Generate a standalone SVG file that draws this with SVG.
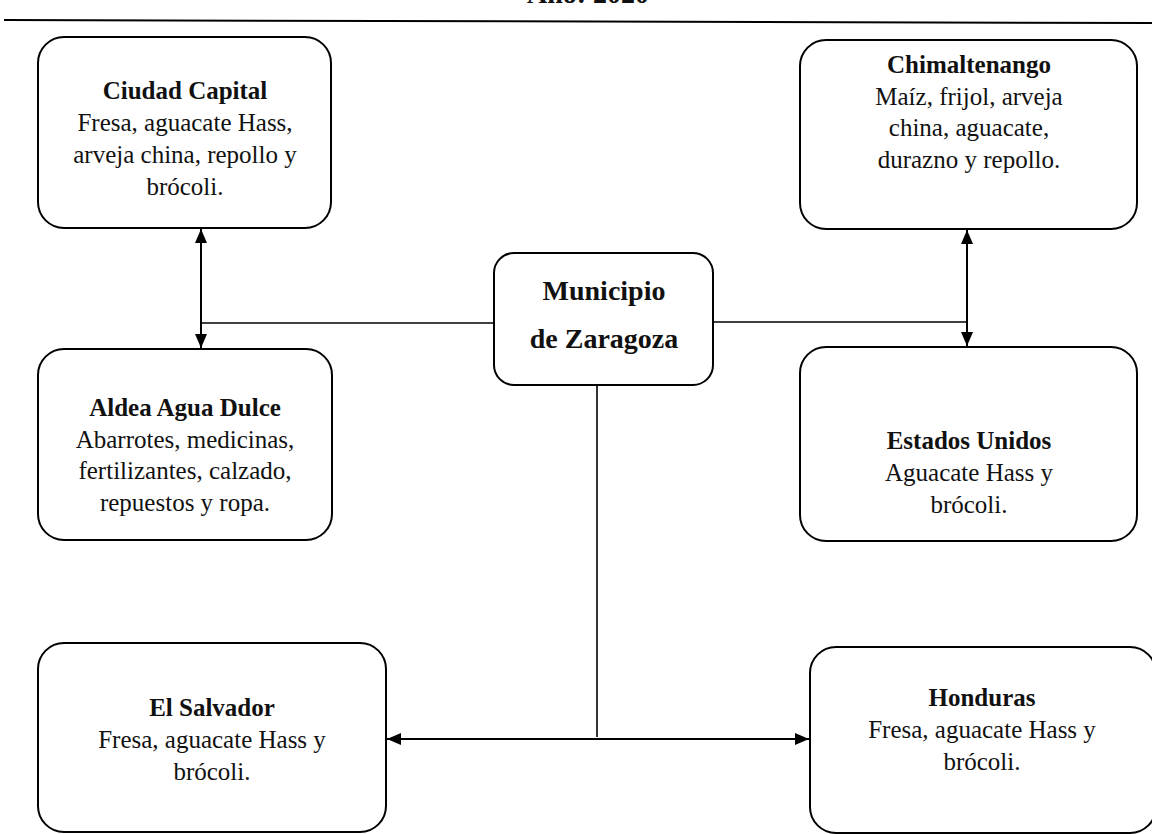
<svg xmlns="http://www.w3.org/2000/svg" width="1152" height="834" viewBox="0 0 1152 834">
<style>
.box{fill:#fff;stroke:#000;stroke-width:2}
.t{font-family:"Liberation Serif","Times New Roman",serif;font-size:25px;fill:#111;text-anchor:middle}
.b{font-weight:bold}
.m{font-size:28px}
.c{stroke:#000;stroke-width:1.6;fill:none}
.a{stroke:#000;stroke-width:2;fill:none;marker-start:url(#ah);marker-end:url(#ah)}
</style>
<defs>
<marker id="ah" viewBox="0 0 14 12" refX="14" refY="6" markerWidth="14" markerHeight="12" markerUnits="userSpaceOnUse" orient="auto-start-reverse">
<path d="M0,0 L14,6 L0,12 z" fill="#000"/>
</marker>
</defs>
<rect width="1152" height="834" fill="#fff"/>
<g id="header">
<text class="t b m" x="588" y="3">Año: 2020</text>
<line x1="4" y1="20" x2="1152" y2="23" stroke="#000" stroke-width="2"/>
</g>
<g id="connectors">
<line class="a" x1="201" y1="229" x2="201" y2="348"/>
<line class="c" x1="202" y1="323" x2="494" y2="323"/>
<line class="a" x1="967" y1="230" x2="967" y2="346"/>
<line class="c" x1="713" y1="322" x2="967" y2="322"/>
<line class="c" x1="597" y1="385" x2="597" y2="737"/>
<line class="a" x1="387" y1="739" x2="809" y2="739"/>
</g>
<g id="ciudad-capital">
<rect class="box" x="38" y="37" width="293" height="191" rx="26"/>
<text class="t" x="185" y="99"><tspan class="b">Ciudad Capital</tspan><tspan x="185" dy="32">Fresa, aguacate Hass,</tspan><tspan x="185" dy="32">arveja china, repollo y</tspan><tspan x="185" dy="32">brócoli.</tspan></text>
</g>
<g id="chimaltenango">
<rect class="box" x="800" y="40" width="337" height="189" rx="26"/>
<text class="t" x="969" y="73"><tspan class="b">Chimaltenango</tspan><tspan x="969" dy="32">Maíz, frijol, arveja</tspan><tspan x="969" dy="31">china, aguacate,</tspan><tspan x="969" dy="32">durazno y repollo.</tspan></text>
</g>
<g id="municipio">
<rect class="box" x="494" y="253" width="219" height="132" rx="20"/>
<text class="t b m" x="604" y="300">Municipio</text>
<text class="t b m" x="604" y="348">de Zaragoza</text>
</g>
<g id="aldea-agua-dulce">
<rect class="box" x="38" y="349" width="294" height="191" rx="26"/>
<text class="t" x="185" y="416"><tspan class="b">Aldea Agua Dulce</tspan><tspan x="185" dy="32">Abarrotes, medicinas,</tspan><tspan x="185" dy="31">fertilizantes, calzado,</tspan><tspan x="185" dy="32">repuestos y ropa.</tspan></text>
</g>
<g id="estados-unidos">
<rect class="box" x="800" y="347" width="337" height="194" rx="26"/>
<text class="t" x="969" y="449"><tspan class="b">Estados Unidos</tspan><tspan x="969" dy="32">Aguacate Hass y</tspan><tspan x="969" dy="32">brócoli.</tspan></text>
</g>
<g id="el-salvador">
<rect class="box" x="38" y="643" width="348" height="189" rx="26"/>
<text class="t" x="212" y="716"><tspan class="b">El Salvador</tspan><tspan x="212" dy="32">Fresa, aguacate Hass y</tspan><tspan x="212" dy="32">brócoli.</tspan></text>
</g>
<g id="honduras">
<rect class="box" x="810" y="647" width="346" height="186" rx="26"/>
<text class="t" x="982" y="706"><tspan class="b">Honduras</tspan><tspan x="982" dy="32">Fresa, aguacate Hass y</tspan><tspan x="982" dy="32">brócoli.</tspan></text>
</g>
</svg>
